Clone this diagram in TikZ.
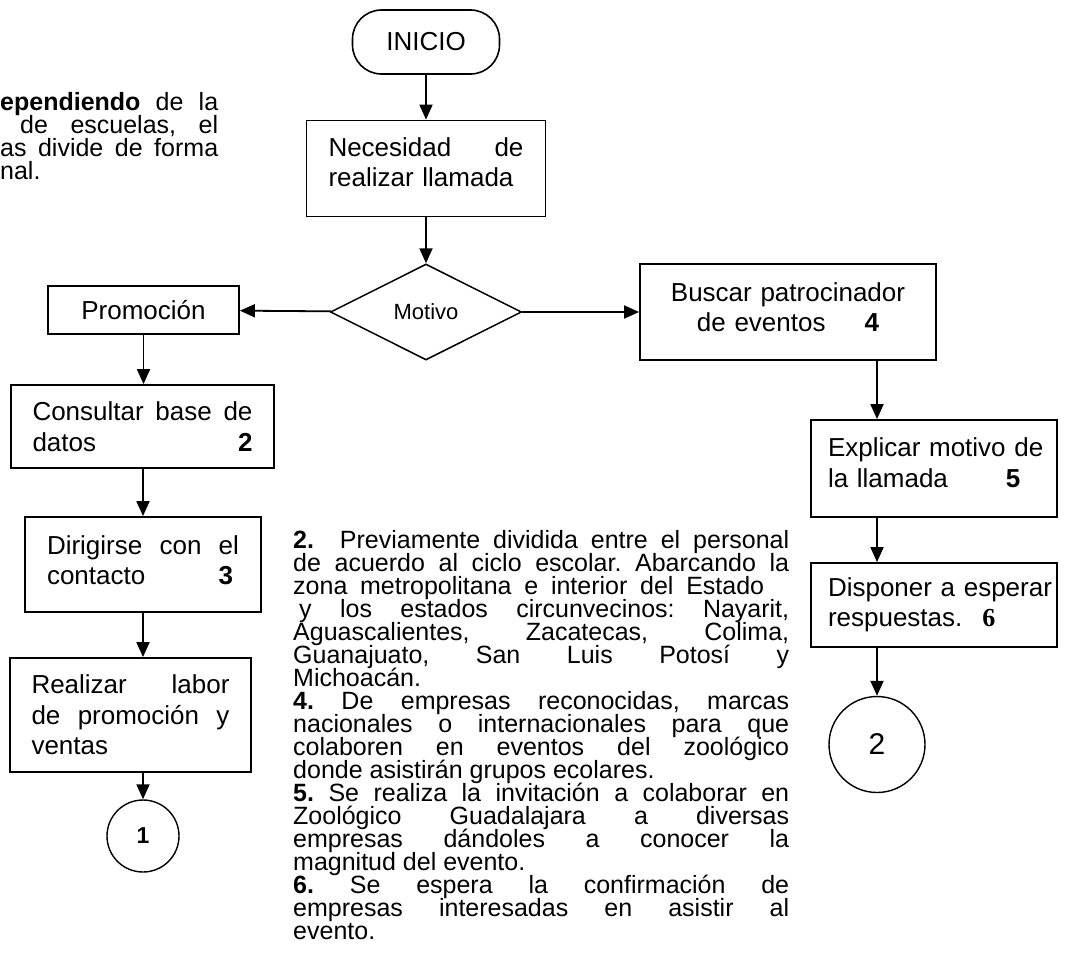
\documentclass[tikz,border=0pt]{standalone}
\usepackage{fontspec}
\setmainfont{Liberation Sans}
\newfontfamily\serifnum{Liberation Serif}
\usetikzlibrary{arrows.meta,shapes.geometric}
\newcommand{\subir}[1]{\par\vspace{#1}\hrule height 0pt}

\begin{document}
\frenchspacing
\begin{tikzpicture}[x=1pt,y=-1pt,
    paso/.style={draw, line width=1.8pt, inner sep=0pt, align=left,
      font=\fontsize{26}{30.5}\selectfont},
    flecha/.style={line width=1.8pt, -{Triangle[length=15pt,width=13pt]}},
    conector/.style={circle, draw, line width=1.4pt, inner sep=0pt},
    nota/.style={anchor=north west, inner sep=0pt, align=justify,
      font={\fontsize{25}{23}\selectfont\setlength{\lineskiplimit}{-30pt}}}]
  \useasboundingbox (0,0) rectangle (1089,977);

  % texto cortado a la izquierda
  \node[nota, text width=218pt] (intro) at (0,92)
    {\textbf{ependiendo} de la\linebreak
     \hspace*{20pt}de escuelas, el\linebreak
     as divide de forma\linebreak
     nal.};

  \node[draw, line width=1.6pt, rounded corners=29pt, minimum width=147pt,
        minimum height=64pt, font=\fontsize{26}{30.5}\selectfont]
        (inicio) at (426,42) {INICIO};
  \node[paso, minimum width=239pt, minimum height=96pt, text width=195pt]
        (necesidad) at (426,168.5) {Necesidad\hfill de\\realizar llamada\subir{13pt}};
  \node[diamond, draw, line width=1.5pt, minimum width=191pt, minimum height=96pt,
        inner sep=0pt, font=\fontsize{22}{26}\selectfont]
        (motivo) at (426,312) {Motivo};

  % rama izquierda
  \node[paso, minimum width=191pt, minimum height=48pt, align=center]
        (promocion) at (143.5,310) {Promoción};
  \node[paso, minimum width=263pt, minimum height=83pt, text width=220pt]
        (consultar) at (142.5,426.5) {Consultar\hfill base\hfill de\\datos\hfill\textbf{2}};
  \node[paso, minimum width=236pt, minimum height=95pt, text width=192pt]
        (dirigirse) at (143,564.5) {Dirigirse\hfill con\hfill el\\contacto\hfill\textbf{3}\hspace*{6pt}\subir{9pt}};
  \node[paso, minimum width=241pt, minimum height=114pt, text width=198pt]
        (realizar) at (130.5,715) {Realizar\hfill labor\\de\hfill promoción\hfill y\\ventas};
  \node[conector, minimum size=72pt, font=\fontsize{23}{26}\selectfont\bfseries]
        (uno) at (143,836) {1};

  % rama derecha
  \node[paso, minimum width=296pt, minimum height=96pt, text width=280pt, align=center]
        (buscar) at (788,312) {Buscar patrocinador\\de eventos\hspace{39pt}\textbf{4}\subir{10pt}};
  \node[paso, minimum width=246pt, minimum height=97pt, text width=232pt]
        (explicar) at (934,468.5) {\hspace*{10pt}Explicar motivo de\\\hspace*{10pt}la llamada\hspace{58pt}\textbf{5}\subir{12pt}};
  \node[paso, minimum width=246pt, minimum height=84pt, text width=232pt]
        (disponer) at (934,605) {\hspace*{10pt}\mbox{Disponer a esperar}\\\hspace*{10pt}respuestas.\hspace{20pt}{\serifnum\bfseries 6}};
  \node[conector, minimum size=96pt, font=\fontsize{30}{34}\selectfont]
        (dos) at (877,744.5) {2};

  % notas
  \node[nota, text width=496pt] (notas) at (293,530)
    {\textbf{2.}\ \ Previamente dividida entre el personal\linebreak
     de acuerdo al ciclo escolar. Abarcando la\linebreak
     \makebox[471pt][s]{zona metropolitana e interior del Estado}\\
     \hspace*{6pt}y los estados circunvecinos: Nayarit,\linebreak
     Aguascalientes, Zacatecas, Colima,\linebreak
     Guanajuato, San Luis Potosí y\linebreak
     Michoacán.\\
     \textbf{4.} De empresas reconocidas, marcas\linebreak
     nacionales o internacionales para que\linebreak
     colaboren en eventos del zoológico\linebreak
     donde asistirán grupos ecolares.\\
     \textbf{5.} Se realiza la invitación a colaborar en\linebreak
     Zoológico Guadalajara a diversas\linebreak
     empresas dándoles a conocer la\linebreak
     magnitud del evento.\\
     \textbf{6.} Se espera la confirmación de\linebreak
     empresas interesadas en asistir al\linebreak
     evento.};

  \draw[flecha] (inicio) -- (necesidad);
  \draw[flecha] (necesidad) -- (motivo);
  \draw[flecha] (motivo) -- (promocion);
  \draw[flecha] (motivo) -- (buscar);
  \draw[flecha] (promocion) -- (promocion |- consultar.north);
  \draw[flecha] (dirigirse |- consultar.south) -- (dirigirse);
  \draw[flecha] (dirigirse) -- (dirigirse.south |- realizar.north);
  \draw[flecha] (uno |- realizar.south) -- (uno);
  \draw[flecha] (dos |- buscar.south) -- (dos |- explicar.north);
  \draw[flecha] (dos |- explicar.south) -- (dos |- disponer.north);
  \draw[flecha] (dos |- disponer.south) -- (dos);
\end{tikzpicture}
\end{document}
